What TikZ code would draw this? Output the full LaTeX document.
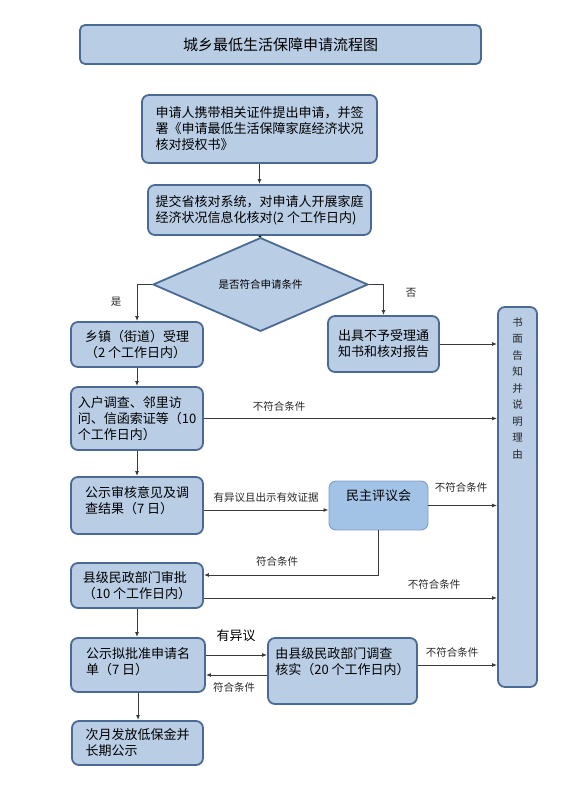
\documentclass[tikz,border=0pt]{standalone}
\usepackage{fontspec}
\setmainfont{Noto Sans CJK SC}
\usetikzlibrary{arrows.meta, shapes.geometric}
\definecolor{cfill}{HTML}{B9CDE5}
\definecolor{cedge}{HTML}{4A6A94}
\definecolor{cvote}{HTML}{A3C3E6}
\definecolor{cvedge}{HTML}{7E9DC9}
\definecolor{cline}{HTML}{3A3A3A}
\tikzset{
  box/.style={draw=cedge, fill=cfill, line width=1.8pt, rounded corners=7pt, align=left, inner sep=0pt, font=\fontsize{13}{16}\selectfont},
  title/.style={box, rounded corners=5pt, align=center, font=\fontsize{15}{18}\selectfont},
  cond/.style={diamond, draw=cedge, fill=cfill, line width=1.8pt, inner sep=0pt, font=\fontsize{10.5}{12}\selectfont},
  arrow/.style={-{Latex[length=5pt, width=4pt]}, draw=cline, line width=1pt},
  note/.style={font=\fontsize{10.5}{12}\selectfont, text=black!85},
}
\begin{document}
\begin{tikzpicture}[x=1pt, y=-1pt]
  \useasboundingbox (0,0) rectangle (580,802);
  \node[title, minimum width=401pt, minimum height=39pt] (head) at (280.5,44.5) {城乡最低生活保障申请流程图};
  \node[box, minimum width=235pt, minimum height=68pt] (apply) at (259.5,129) {申请人携带相关证件提出申请，并签\\署《申请最低生活保障家庭经济状况\\核对授权书》};
  \node[box, minimum width=223pt, minimum height=50pt] (submit) at (259.5,210) {提交省核对系统，对申请人开展家庭\\经济状况信息化核对(2 个工作日内)};
  \node[cond, minimum width=215pt, minimum height=51pt] (ok) at (260.5,284.5) {是否符合申请条件};
  \node[box, minimum width=132pt, minimum height=45pt] (town) at (137,344.5) {乡镇（街道）受理\\（2 个工作日内）};
  \node[box, align=center, minimum width=111pt, minimum height=56pt] (notice) at (383.5,344) {出具不予受理通\\知书和核对报告};
  \node[box, minimum width=39pt, minimum height=380pt,
    label={[note, align=center, anchor=north, yshift=-8pt, font=\fontsize{10.5}{16.5}\selectfont]north:{书\\面\\告\\知\\并\\说\\明\\理\\由}}] (notify) at (517.5,497) {};
  \node[box, minimum width=132pt, minimum height=63pt] (visit) at (137,418.5) {入户调查、邻里访\\问、信函索证等（10\\个工作日内）};
  \node[box, minimum width=132pt, minimum height=57pt, text depth=11pt] (pub) at (137,505.5) {公示审核意见及调\\查结果（7 日）};
  \node[box, draw=cvedge, fill=cvote, line width=0.9pt, minimum width=99pt, minimum height=49pt, text depth=21pt] (vote) at (378.5,505.5) {民主评议会};
  \node[box, minimum width=132pt, minimum height=45pt] (county) at (137,585.5) {县级民政部门审批\\（10 个工作日内）};
  \node[box, minimum width=134pt, minimum height=54pt, text depth=8pt] (list) at (138,665) {公示拟批准申请名\\单（7 日）};
  \node[box, minimum width=149pt, minimum height=66pt, text depth=19pt] (check) at (342.5,671) {由县级民政部门调查\\核实（20 个工作日内）};
  \node[box, minimum width=131pt, minimum height=44pt] (pay) at (137.5,743) {次月发放低保金并\\长期公示};

  \draw[arrow] (apply) -- (submit);
  \draw[draw=black, line width=2.6pt] (submit) -- (ok);
  \draw[arrow] (ok.west) -| (town.north);
  \draw[arrow] (ok.east) -| (notice.north);
  \draw[arrow] (notice.east) -- (notice.east -| notify.west);
  \draw[arrow] (town) -- (visit);
  \draw[arrow] (visit.east) -- (visit.east -| notify.west);
  \draw[arrow] (visit) -- (pub);
  \draw[arrow] ([yshift=-4.5pt]pub.east) -- ([yshift=-4.5pt]vote.west);
  \draw[arrow] (vote.east) -- (vote.east -| notify.west);
  \draw[arrow] (vote.south) |- ([yshift=10.5pt]county.east);
  \coordinate (no3) at ([yshift=-12.5pt]county.east);
  \draw[arrow] (no3) -- (no3 -| notify.west);
  \draw[arrow] (county.south) -- (county.south |- list.north);
  \draw[arrow] ([yshift=10pt]list.east) -- ([yshift=16pt]check.west);
  \draw[arrow] ([yshift=-4pt]check.west) -- ([yshift=-10pt]list.east);
  \coordinate (no4) at ([yshift=6pt]check.east);
  \draw[arrow] (no4) -- (no4 -| notify.west);
  \draw[arrow] (list.south) -- (list.south |- pay.north);

  % labels on the connectors
  \node[note] (yes) at (116,302) {是};
  \node[note] (no) at (411,293) {否};
  \node[note] (n1) at (279,406) {不符合条件};
  \node[note] (dis) at (266,498) {有异议且出示有效证据};
  \node[note] (n2) at (461,487) {不符合条件};
  \node[note] (y1) at (277,561) {符合条件};
  \node[note] (n3) at (434,584) {不符合条件};
  \node[note, font=\fontsize{13}{15}\selectfont, text=black] (obj) at (236,636) {有异议};
  \node[note] (n4) at (452,652) {不符合条件};
  \node[note] (y2) at (234,687) {符合条件};
\end{tikzpicture}
\end{document}
